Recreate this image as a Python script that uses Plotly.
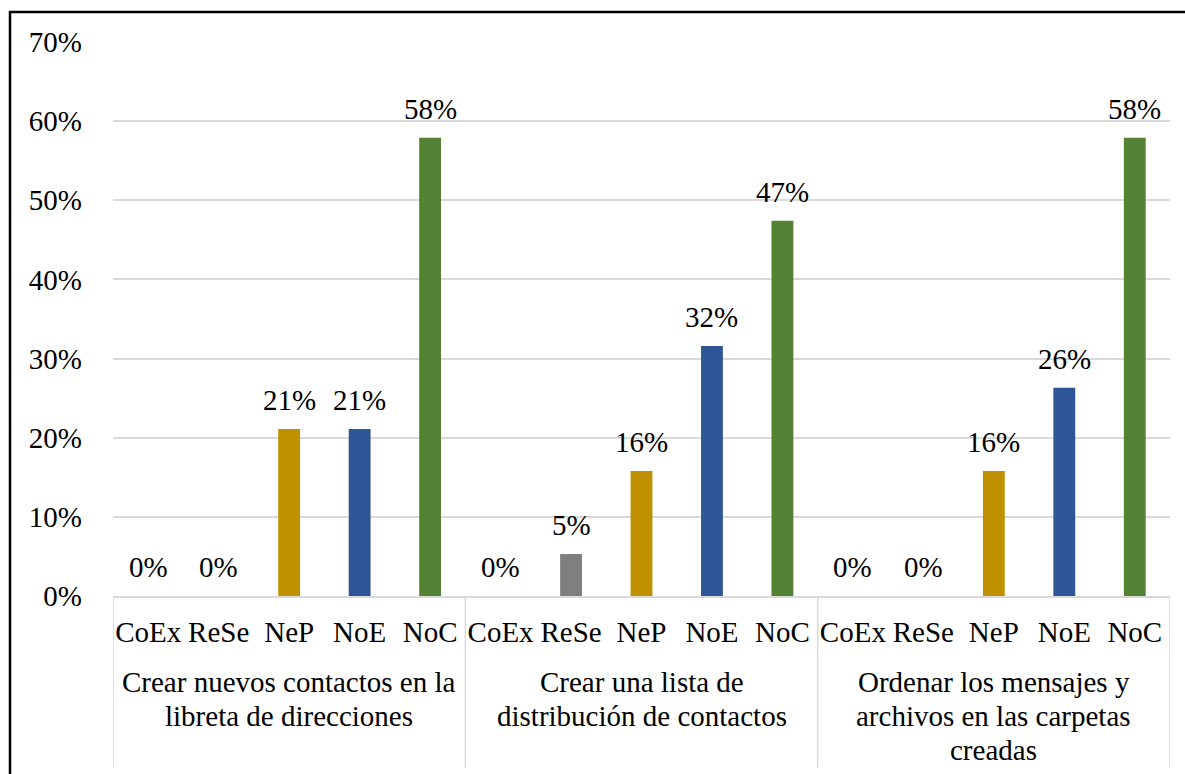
import plotly.graph_objects as go

# ---- data ----
groups = [
    "Crear nuevos contactos en la<br>libreta de direcciones",
    "Crear una lista de<br>distribución de contactos",
    "Ordenar los mensajes y<br>archivos en las carpetas<br>creadas",
]
categories = ["CoEx", "ReSe", "NeP", "NoE", "NoC"]
values_g1 = [0, 0, 21.1, 21.1, 57.9]
values_g2 = [0, 5.3, 15.8, 31.6, 47.4]
values_g3 = [0, 0, 15.8, 26.3, 57.9]
y_ticks = [0, 10, 20, 30, 40, 50, 60, 70]

cat_colors = {"CoEx": "#5B9BD5", "ReSe": "#7F7F7F", "NeP": "#BF9000",
              "NoE": "#2F5597", "NoC": "#548235"}

FONT = "Liberation Serif"
FS = 29
all_vals = [values_g1, values_g2, values_g3]

xs, ys, cols, ticktext = [], [], [], []
for gi, vals in enumerate(all_vals):
    for ci, v in enumerate(vals):
        xs.append(gi * len(categories) + ci)
        ys.append(v)
        cols.append(cat_colors[categories[ci]])
        ticktext.append(categories[ci])

fig = go.Figure()
fig.add_trace(go.Bar(x=xs, y=ys, marker=dict(color=cols, line=dict(width=0)),
                     width=0.31, hoverinfo="skip"))

annotations = []
for x, y in zip(xs, ys):
    annotations.append(dict(x=x, y=y, xref="x", yref="y", text=f"{round(y)}%",
                            showarrow=False, yanchor="bottom", yshift=11,
                            font=dict(family=FONT, size=FS, color="black")))

n = len(categories)
LINE_GAP = 34
for gi, g in enumerate(groups):
    for li, line in enumerate(g.split("<br>")):
        annotations.append(dict(x=gi * n + (n - 1) / 2, y=-0.122, xref="x", yref="paper",
                                text=line, showarrow=False, yanchor="top", align="center",
                                yshift=-LINE_GAP * li,
                                font=dict(family=FONT, size=FS, color="black")))

shapes = []
for k in range(len(groups) + 1):
    xd = k * n - 0.5
    shapes.append(dict(type="line", xref="x", yref="paper", x0=xd, x1=xd,
                       y0=0, y1=-0.31, line=dict(color="#D9D9D9", width=1.5)))

# outer chart frame (partially visible)
L, R, T, B = 113, 15, 42, 178
W, H = 1185, 774
pw, ph = W - L - R, H - T - B
shapes.append(dict(type="rect", xref="paper", yref="paper",
                   x0=(10 - L) / pw, x1=(W + 20 - L) / pw,
                   y0=(H - B - (H + 20)) / ph, y1=(H - B - 12) / ph,
                   line=dict(color="black", width=2.5), fillcolor="rgba(0,0,0,0)",
                   layer="below"))

fig.update_layout(
    width=W, height=H,
    margin=dict(l=L, r=R, t=T, b=B, pad=0),
    paper_bgcolor="white", plot_bgcolor="white",
    showlegend=False,
    font=dict(family=FONT, size=FS, color="black"),
    xaxis=dict(range=[-0.5, len(xs) - 0.5], tickmode="array", tickvals=xs,
               ticktext=ticktext, showgrid=False, zeroline=False,
               showline=True, linecolor="#D9D9D9", linewidth=1.5,
               ticks="", ticklabelstandoff=9,
               tickfont=dict(family=FONT, size=FS, color="black")),
    yaxis=dict(range=[0, 70], tickmode="array", tickvals=y_ticks,
               ticktext=[f"{t}%" for t in y_ticks], showgrid=True,
               gridcolor="#D9D9D9", gridwidth=1.5, zeroline=False,
               showline=False, ticks="", ticklabelstandoff=30,
               tickfont=dict(family=FONT, size=FS, color="black")),
    annotations=annotations, shapes=shapes,
)

fig.write_html("out.html", config={"displayModeBar": False},
               post_script="document.body.style.margin='0';document.body.style.overflow='hidden';")
